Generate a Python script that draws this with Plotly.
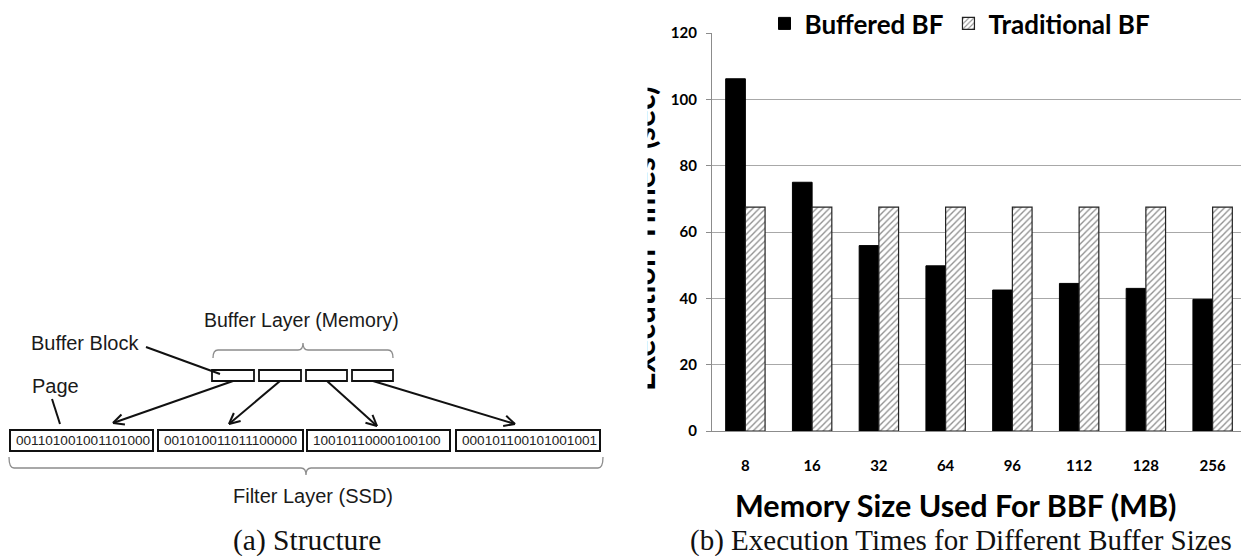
import math
import plotly.graph_objects as go

# ---------------- data ----------------
memory_sizes = ["8", "16", "32", "64", "96", "112", "128", "256"]
buffered_bf = [106.2, 75.0, 55.9, 49.8, 42.5, 44.5, 43.0, 39.7]
traditional_bf = [67.5, 67.5, 67.5, 67.5, 67.5, 67.5, 67.5, 67.5]
series_names = ["Buffered BF", "Traditional BF"]
y_tick_values = [0, 20, 40, 60, 80, 100, 120]
x_title = "Memory Size Used For BBF (MB)"
y_title = "Execution Times (sec)"
caption_a = "(a) Structure"
caption_b = "(b) Execution Times for Different Buffer Sizes"

# diagram texts
page_bits = ["001101001001101000", "001010011011100000",
             "10010110000100100", "000101100101001001"]
label_buffer_layer = "Buffer Layer (Memory)"
label_buffer_block = "Buffer Block"
label_page = "Page"
label_filter_layer = "Filter Layer (SSD)"

# ---------------- layout helpers ----------------
W, H = 1249, 556
OFF = 8                      # page body margin of the html page
FW, FH = W - OFF, H - OFF    # figure size


def px(x):
    return (x - OFF) / FW


def py(y):
    return 1 - (y - OFF) / FH


shapes = []
annotations = []


def line(x0, y0, x1, y1, color="#111", width=2):
    shapes.append(dict(type="line", xref="paper", yref="paper",
                       x0=px(x0), y0=py(y0), x1=px(x1), y1=py(y1),
                       line=dict(color=color, width=width)))


def arrow(x0, y0, x1, y1, head=12, ang=26):
    line(x0, y0, x1, y1)
    a = math.atan2(y1 - y0, x1 - x0)
    for s in (1, -1):
        b = a + math.pi + s * math.radians(ang)
        line(x1, y1, x1 + head * math.cos(b), y1 + head * math.sin(b))


def rect(x0, y0, x1, y1, width=2):
    shapes.append(dict(type="rect", xref="paper", yref="paper",
                       x0=px(x0), y0=py(y0), x1=px(x1), y1=py(y1),
                       line=dict(color="#111", width=width),
                       fillcolor="white"))


def brace(x0, x1, ylin, yend, ytip, color="#8c8c8c"):
    xm = (x0 + x1) / 2
    c = 5
    pts = (f"M{px(x0)},{py(yend)} Q{px(x0)},{py(ylin)} {px(x0 + c)},{py(ylin)} "
           f"L{px(xm - c)},{py(ylin)} Q{px(xm)},{py(ylin)} {px(xm)},{py(ytip)} "
           f"Q{px(xm)},{py(ylin)} {px(xm + c)},{py(ylin)} "
           f"L{px(x1 - c)},{py(ylin)} Q{px(x1)},{py(ylin)} {px(x1)},{py(yend)}")
    shapes.append(dict(type="path", xref="paper", yref="paper", path=pts,
                       line=dict(color=color, width=1.3)))


def text(s, x, y, size, family="Liberation Sans", xanchor="center",
         color="#1a1a1a", bold=False, angle=0):
    annotations.append(dict(xref="paper", yref="paper", x=px(x), y=py(y),
                            text=s, showarrow=False, xanchor=xanchor,
                            yanchor="middle", textangle=angle,
                            font=dict(family=family, size=size, color=color,
                                      weight="bold" if bold else "normal")))


# ---------------- left diagram ----------------
small_boxes = [(212, 254), (259, 301), (306, 347), (352, 393)]
for a, b in small_boxes:
    rect(a, 370, b, 381, width=1.8)

page_boxes = [(10, 153), (158, 303), (307, 450), (456, 600)]
for (a, b), bits in zip(page_boxes, page_bits):
    rect(a, 430, b, 451, width=2)
    text(bits, a + 4, 440.5, 13.6, xanchor="left", color="#222")

brace(213, 393, 350, 358, 343)
brace(9, 603, 468, 457, 475)

text(label_buffer_layer, 301, 320, 19.5)
text(label_buffer_block, 29, 343, 20, xanchor="left")
text(label_page, 30, 386, 20, xanchor="left")
text(label_filter_layer, 313, 496, 20)

line(146, 347, 220, 374)
line(52, 399, 60, 424)
arrow(233, 381, 113, 423)
arrow(280, 381, 229, 424)
arrow(327, 381, 377, 426)
arrow(373, 381, 515, 424)

text(caption_a, 306.5, 540, 29.5, family="Liberation Serif", color="#111")

# ---------------- right chart ----------------
fig = go.Figure()
fig.add_trace(go.Bar(x=memory_sizes, y=buffered_bf, name=series_names[0],
                     marker=dict(color="black", line=dict(color="black", width=1)),
                     xaxis="x", yaxis="y"))
fig.add_trace(go.Bar(x=memory_sizes, y=traditional_bf, name=series_names[1],
                     marker=dict(color="white",
                                 line=dict(color="#222", width=1.2),
                                 pattern=dict(shape="/", size=4.5, solidity=0.3,
                                              fgcolor="#222", bgcolor="white")),
                     xaxis="x", yaxis="y"))

chart_font = "Lato"
text(x_title, 955.5, 505, 30.5, family=chart_font, color="black", bold=True)
text(caption_b, 961, 540, 29, family="Liberation Serif", color="#111")
# y-axis title, partly hidden at the left edge of the panel (as in the original)
text(y_title, 642, 239, 32, family=chart_font, color="black", bold=True, angle=-90)
annotations.append(dict(xref="paper", yref="paper", x=px(606), y=py(40),
                        xanchor="left", yanchor="top", text=" ", showarrow=False,
                        width=40, height=385, bgcolor="white", borderpad=0))

fig.update_layout(
    width=FW, height=FH,
    margin=dict(l=0, r=0, t=0, b=0, autoexpand=False),
    paper_bgcolor="white", plot_bgcolor="white",
    barmode="group", bargap=0.41, bargroupgap=0,
    showlegend=True,
    legend=dict(orientation="h", x=px(960), xanchor="center", y=py(0),
                yanchor="top", font=dict(family=chart_font, size=26,
                                         color="black", weight="bold"),
                itemwidth=30, bgcolor="rgba(0,0,0,0)"),
    xaxis=dict(domain=[px(712), px(1246)], showgrid=False,
               showline=True, linecolor="#8c8c8c", linewidth=1.2,
               ticks="", ticklabelstandoff=21,
               tickfont=dict(family=chart_font, size=15, color="black", weight="bold")),
    yaxis=dict(domain=[py(431), py(33)], range=[0, 120],
               tickvals=y_tick_values, showgrid=True, gridcolor="#a8a8a8",
               gridwidth=1.2, showline=True, linecolor="#8c8c8c", linewidth=1.2,
               ticks="outside", ticklen=5, tickcolor="#8c8c8c",
               ticklabelstandoff=6, zeroline=False,
               tickfont=dict(family=chart_font, size=15, color="black", weight="bold")),
    shapes=shapes,
    annotations=annotations,
)

fig.write_html("out.html")
